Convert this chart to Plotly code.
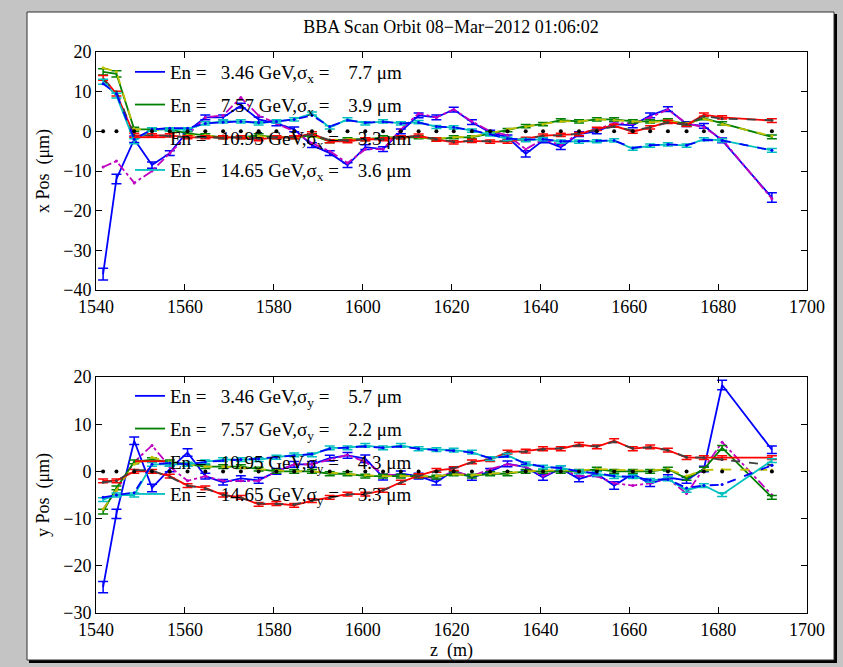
import plotly.graph_objects as go

# ---------------- data ----------------
z_bpm = [1541.6, 1544.6, 1548.6, 1552.6, 1556.6, 1560.6, 1564.6, 1568.6, 1572.6, 1576.6,
         1580.6, 1584.6, 1588.6, 1592.6, 1596.6, 1600.6, 1604.6, 1608.6, 1612.6, 1616.6,
         1620.5, 1624.6, 1628.7, 1632.6, 1636.7, 1640.6, 1644.6, 1648.7, 1652.7, 1656.6,
         1660.8, 1664.7, 1668.7, 1672.9, 1676.8, 1680.9, 1692.1]

ref_zero = [0, 0, 0, 0, 0, 0, 0, 0, 0, 0, 0, 0, 0, 0, 0, 0, 0, 0, 0, 0,
            0, 0, 0, 0, 0, 0, 0, 0, 0, 0, 0, 0, 0, 0, 0, 0, 0]

energies = ["3.46", "7.57", "10.95", "14.65"]
sigma_x = ["7.7", "3.9", "3.3", "3.6"]
sigma_y = ["5.7", "2.2", "4.3", "3.3"]

# x plane, measured
x_meas_346 = [-36, -12, -2, -8.5, -5.5, 0, 3.5, 3.5, 6.5, 3, 2, 0.5, -3.5, -5.5, -8.5, -4, -4.5, 0, 4, 3.5,
              5.5, 2.3, -0.3, -1.5, -5.7, -2.3, -4, -0.7, 0, 1.8, 1.5, 4, 5.6, 1.8, 1.4, -2.3, -16.7]
x_meas_757 = [15, 14.5, 0.5, 0.5, 0.5, -0.5, -1, -1.5, -1.5, -1, -1.5, -1.5, -1, -2.5, -2, -2, -1.5, -1.5, -1.5, -2,
              -1.5, -1.5, -0.5, 0.3, 1.3, 1.8, 2.8, 2.5, 3, 3, 2.5, 2.5, 2.8, 1.8, 3.3, 2, -1.4]
x_meas_1095 = [13.5, 9.5, -1, -1, -1, -1.5, -1.5, -1.5, -1.5, -2, -1.5, -1.5, -0.5, -2.5, -2.5, -2, -2, -1.5, -1.1, -2.1,
               -2.8, -2.4, -2.6, -2.6, -1.9, -1.1, -0.9, -0.7, 0.6, 1.4, -0.1, 1, 2.4, 1.6, 4.2, 3.5, 2.7]
x_meas_1465 = [12.5, 9, -2.5, 0.5, 0.5, 0.5, 2, 2.5, 2.5, 2, 2.5, 3, 4.5, 1, 3, 2, 2.5, 2, 2.3, 1.1,
               1, 0.2, -0.8, -1.9, -2.2, -2, -2.6, -2.6, -2.5, -2.3, -4.4, -3.6, -3.3, -3.6, -2, -2.3, -4.8]
# x plane, fits
x_fit_346 = [-9, -7.5, -13, -10, -5.5, -1, 3.5, 4, 8.5, 4, 2, 0, -3, -5, -8, -4.5, -4.5, 0.5, 4.5, 3.5,
             5.5, 2.5, 0, -1, -4.5, -2, -3.5, -0.5, 0.5, 2, 2, 3.5, 5.5, 2, 1, -2, -17]
x_fit_757 = [16, 15, 0.5, 0.5, 0, -1, -1, -1.5, -1.5, -1.2, -1.5, -1.5, -1.2, -2.2, -2, -2, -1.7, -1.5, -1.5, -1.8,
             -1.5, -1.3, -0.5, 0.5, 1.2, 1.8, 2.5, 2.5, 3, 2.8, 2.5, 2.3, 2.6, 2, 3.2, 1.8, -1.2]
x_fit_1095 = [13, 10, -1, -1, -1.2, -1.5, -1.5, -1.7, -1.5, -1.8, -1.5, -1.5, -0.8, -2.2, -2.3, -2, -2, -1.5, -1.2, -2,
              -2.6, -2.4, -2.5, -2.4, -1.8, -1.2, -1, -0.6, 0.4, 1.2, 0.2, 1, 2.2, 1.7, 3.8, 3.2, 2.8]
x_fit_1465 = [12, 9.5, -2, 0.5, 0.8, 0.8, 2, 2.3, 2.5, 2.2, 2.5, 3, 4, 1.2, 2.8, 2.2, 2.4, 2, 2.2, 1.2,
              1, 0.3, -0.7, -1.8, -2.1, -2, -2.5, -2.5, -2.4, -2.3, -4.2, -3.5, -3.3, -3.5, -2.2, -2.3, -4.8]

# y plane, measured
y_meas_346 = [-24.5, -9, 6.5, -3.5, 0.5, 4, -1, -2.3, -1.5, -1.9, 0, 1.5, 1.5, 2.8, 3.4, 2.7, -1.2, -0.5, -1, -2.3,
              0.2, -1.3, 0, 1.6, 0.9, -1.3, 0.6, -1.6, -0.5, -3, -0.5, -2.6, -1.3, -1.9, 0.5, 18.3, 4.6]
y_meas_757 = [-8.5, -3.5, 2, 2.5, 2, 1.5, 1, 1, 1, 0.5, 0, 0, 0, -0.5, -0.5, -1, -1, -1, -1, -1.2,
              -0.5, -1, -0.5, -0.5, 0, 0, 0, 0, 0.5, 0, 0, 0, 0.5, -1.5, 0.5, 5, -5.5]
y_meas_1095 = [-2, -2, 0, 0, -1, -3, -3.5, -5, -5.5, -7, -6.8, -7.2, -6.2, -5.5, -4.8, -4.8, -4, -2.3, -0.9, 0.2,
               0.6, 2, 2.5, 4.1, 4.3, 4.8, 4.8, 5.7, 5.2, 6.5, 4.8, 5.2, 4.5, 2.9, 2.9, 2.9, 2.9]
y_meas_1465 = [-6, -5, -5, 1.5, 1.5, 1.5, 2, 2.5, 2.5, 2.5, 3, 3.5, 3.5, 5, 5, 5.5, 5, 5.5, 4.8, 4.6,
               4.5, 4.1, 2.7, 3.4, 1.6, 0.9, 0.8, -0.1, -0.5, -1.1, -1.1, -1.9, -1.6, -4, -3, -4.9, 2.3]
# y plane, fits
y_fit_346 = [-8, -4, 2, 5.5, 1, -2, -1, -2, -2, -2, 0, 1.5, 1.5, 2.5, 3.5, 2, -0.5, -1, -1, -1.5,
             0, -1, 0.5, 1.5, 1, -1, 0.5, -1, -1, -2.5, -3, -2.5, -1.5, -4.7, 0.5, 6.2, -5]
y_fit_757 = [-8, -4, 1.5, 3, 2, 1.5, 1, 1, 0.8, 0.5, 0.2, 0, 0, -0.3, -0.5, -0.8, -1, -1, -1, -1,
             -0.6, -0.8, -0.5, -0.3, 0, 0.2, 0.2, 0.2, 0.5, 0.3, 0.2, 0.2, 0.5, -1, 0.3, 0.4, 0.3]
y_fit_1095 = [-2.3, -2, 0.3, 0.2, -1.2, -3, -3.6, -5, -5.6, -6.8, -6.9, -7, -6.2, -5.6, -4.9, -4.7, -4, -2.4, -1, 0,
              0.7, 1.9, 2.6, 4, 4.2, 4.7, 4.9, 5.5, 5.3, 6.3, 4.9, 5.1, 4.5, 3, 2.9, 2.5, 1.3]
y_fit_1465 = [-5.5, -5, -4.5, 1.5, 1.8, 1.5, 2, 2.3, 2.5, 2.7, 3, 3.3, 3.7, 4.8, 5, 5.3, 5, 5.3, 4.8, 4.5,
              4.4, 4, 2.8, 3.2, 1.7, 1, 0.7, 0, -0.4, -1, -1.2, -1.8, -1.7, -3.5, -3, -2.8, 1.3]

# error bars
err_x_346 = [1.5, 1.2, 0.8, 0.8, 0.6, 0.6, 0.6, 0.6, 0.6, 0.6, 0.6, 0.6, 0.6, 0.6, 0.6, 0.6, 0.6, 0.6, 0.6, 0.6,
             0.6, 0.6, 0.6, 0.6, 0.8, 0.6, 0.6, 0.6, 0.6, 0.6, 0.6, 0.6, 0.6, 0.6, 0.6, 0.6, 1.2]
err_x_757 = [0.8, 0.8, 0.5, 0.4, 0.4, 0.4, 0.4, 0.4, 0.4, 0.4, 0.4, 0.4, 0.4, 0.4, 0.4, 0.4, 0.4, 0.4, 0.4, 0.4,
             0.4, 0.4, 0.4, 0.4, 0.4, 0.4, 0.4, 0.4, 0.4, 0.4, 0.4, 0.4, 0.4, 0.4, 0.4, 0.4, 0.5]
err_x_1095 = [0.6, 0.6, 0.5, 0.4, 0.4, 0.4, 0.4, 0.4, 0.4, 0.4, 0.4, 0.4, 0.4, 0.4, 0.4, 0.4, 0.4, 0.4, 0.4, 0.4,
              0.4, 0.4, 0.4, 0.4, 0.4, 0.4, 0.4, 0.4, 0.4, 0.4, 0.4, 0.4, 0.4, 0.4, 0.4, 0.4, 0.5]
err_x_1465 = [0.6, 0.6, 0.6, 0.4, 0.4, 0.4, 0.4, 0.4, 0.4, 0.4, 0.4, 0.4, 0.4, 0.4, 0.4, 0.4, 0.4, 0.4, 0.4, 0.4,
              0.4, 0.4, 0.4, 0.4, 0.4, 0.4, 0.4, 0.4, 0.4, 0.4, 0.4, 0.4, 0.4, 0.4, 0.4, 0.4, 0.5]
err_y_346 = [1.2, 1.0, 0.8, 0.8, 0.6, 0.8, 0.6, 0.6, 0.6, 0.6, 0.6, 0.6, 0.6, 0.6, 0.6, 0.8, 0.6, 0.6, 0.6, 0.6,
             0.6, 0.6, 0.6, 0.6, 0.6, 0.6, 0.6, 0.6, 0.6, 0.8, 0.6, 0.6, 0.6, 0.6, 0.6, 1.0, 0.8]
err_y_757 = [0.5, 0.4, 0.4, 0.4, 0.4, 0.4, 0.4, 0.4, 0.4, 0.4, 0.4, 0.4, 0.4, 0.4, 0.4, 0.4, 0.4, 0.4, 0.4, 0.4,
             0.4, 0.4, 0.4, 0.4, 0.4, 0.4, 0.4, 0.4, 0.4, 0.4, 0.4, 0.4, 0.4, 0.4, 0.4, 0.5, 0.4]
err_y_1095 = [0.4, 0.4, 0.4, 0.4, 0.4, 0.4, 0.4, 0.4, 0.4, 0.4, 0.4, 0.4, 0.4, 0.4, 0.4, 0.4, 0.4, 0.4, 0.4, 0.4,
              0.4, 0.4, 0.4, 0.4, 0.4, 0.4, 0.4, 0.4, 0.4, 0.4, 0.4, 0.4, 0.4, 0.4, 0.4, 0.4, 0.4]
err_y_1465 = [0.4, 0.4, 0.4, 0.4, 0.4, 0.4, 0.4, 0.4, 0.4, 0.4, 0.4, 0.4, 0.4, 0.4, 0.4, 0.4, 0.4, 0.4, 0.4, 0.4,
              0.4, 0.4, 0.4, 0.4, 0.4, 0.4, 0.4, 0.4, 0.4, 0.4, 0.4, 0.4, 0.4, 0.4, 0.4, 0.4, 0.4]

x_ticks = [1540, 1560, 1580, 1600, 1620, 1640, 1660, 1680, 1700]
x_ticks_top_y = [-40, -30, -20, -10, 0, 10, 20]
y_ticks_bot_y = [-30, -20, -10, 0, 10, 20]

# ---------------- styles ----------------
FONT = "Liberation Serif, Times New Roman, serif"
meas_colors = ["#0000ff", "#008000", "#ff0000", "#00bfbf"]
fit_colors = ["#bf00bf", "#bfbf00", "#404040", "#0000ff"]
fit_dash = ["dashdot", "dash", "dash", "dash"]
NB = "\u00a0"

W, H = 843, 667
ML, MR, MT, MB = 96, 36, 52, 54
PW, PH = W - ML - MR, H - MT - MB


def px2x(px):
    return (px - ML) / PW


def py2y(py):
    return (H - MB - py) / PH


fig = go.Figure()

panels = [
    ("x", "y", "legend", [x_meas_346, x_meas_757, x_meas_1095, x_meas_1465],
     [x_fit_346, x_fit_757, x_fit_1095, x_fit_1465],
     [err_x_346, err_x_757, err_x_1095, err_x_1465], sigma_x, "x"),
    ("x2", "y2", "legend2", [y_meas_346, y_meas_757, y_meas_1095, y_meas_1465],
     [y_fit_346, y_fit_757, y_fit_1095, y_fit_1465],
     [err_y_346, err_y_757, err_y_1095, err_y_1465], sigma_y, "y"),
]

for xa, ya, leg, meas, fits, errs, sig, sub in panels:
    for i in range(4):
        label = (f"En ={NB}{NB}{NB}{energies[i]} GeV,σ<sub>{sub}</sub>{NB}={NB}{NB}{NB}{NB}"
                 f"{sig[i]} μm")
        fig.add_trace(go.Scatter(
            x=z_bpm, y=meas[i], xaxis=xa, yaxis=ya, mode="lines",
            line=dict(color=meas_colors[i], width=1.8),
            error_y=dict(type="data", array=errs[i], color=meas_colors[i],
                         thickness=1.5, width=5),
            name=label, legend=leg, legendgroup=f"{leg}_{i}", showlegend=True))
        fig.add_trace(go.Scatter(
            x=z_bpm, y=fits[i], xaxis=xa, yaxis=ya, mode="lines+markers",
            line=dict(color=fit_colors[i], width=1.8, dash=fit_dash[i]),
            marker=dict(size=3, color=fit_colors[i]),
            showlegend=False, hoverinfo="skip"))
    fig.add_trace(go.Scatter(
        x=z_bpm, y=ref_zero, xaxis=xa, yaxis=ya, mode="markers",
        marker=dict(size=4, color="black"), showlegend=False))

axis_common = dict(
    showline=True, linecolor="black", linewidth=1, mirror="ticks",
    ticks="inside", ticklen=6, tickcolor="black", showgrid=False, zeroline=False,
    tickfont=dict(family=FONT, size=18, color="black"),
)

top_dom = [py2y(290), 1.0]
bot_dom = [0.0, py2y(377)]

fig.update_layout(
    width=W, height=H,
    margin=dict(l=ML, r=MR, t=MT, b=MB),
    paper_bgcolor="#c4c4c4",
    plot_bgcolor="white",
    font=dict(family=FONT, size=17, color="black"),
    xaxis=dict(axis_common, range=[1540, 1700], tickvals=x_ticks, anchor="y", domain=[0, 1]),
    yaxis=dict(axis_common, range=[-40, 20], tickvals=x_ticks_top_y, anchor="x", domain=top_dom,
               title=dict(text="x Pos  (μm)", font=dict(family=FONT, size=18), standoff=8)),
    xaxis2=dict(axis_common, range=[1540, 1700], tickvals=x_ticks, anchor="y2", domain=[0, 1],
                title=dict(text="z  (m)", font=dict(family=FONT, size=18), standoff=0)),
    yaxis2=dict(axis_common, range=[-30, 20], tickvals=y_ticks_bot_y, anchor="x2", domain=bot_dom,
                title=dict(text="y Pos  (μm)", font=dict(family=FONT, size=18), standoff=8)),
    title=dict(text="BBA Scan Orbit 08−Mar−2012 01:06:02", x=px2x(451), xref="paper",
               xanchor="center", y=1 - 27 / H, yanchor="middle",
               font=dict(family=FONT, size=18, color="black")),
    legend=dict(x=px2x(130), y=py2y(53), xanchor="left", yanchor="top",
                bgcolor="rgba(0,0,0,0)", borderwidth=0, tracegroupgap=5,
                font=dict(family=FONT, size=19)),
    legend2=dict(x=px2x(130), y=py2y(377), xanchor="left", yanchor="top",
                 bgcolor="rgba(0,0,0,0)", borderwidth=0, tracegroupgap=5,
                 font=dict(family=FONT, size=19)),
    showlegend=True,
    shapes=[
        dict(type="rect", xref="paper", yref="paper", layer="below",
             x0=px2x(29), x1=px2x(837), y0=py2y(663), y1=py2y(14),
             fillcolor="black", line=dict(width=0)),
        dict(type="rect", xref="paper", yref="paper", layer="below",
             x0=px2x(27), x1=px2x(834), y0=py2y(660), y1=py2y(12),
             fillcolor="white", line=dict(color="#303030", width=1)),
    ],
)

fig.write_html("out.html")
